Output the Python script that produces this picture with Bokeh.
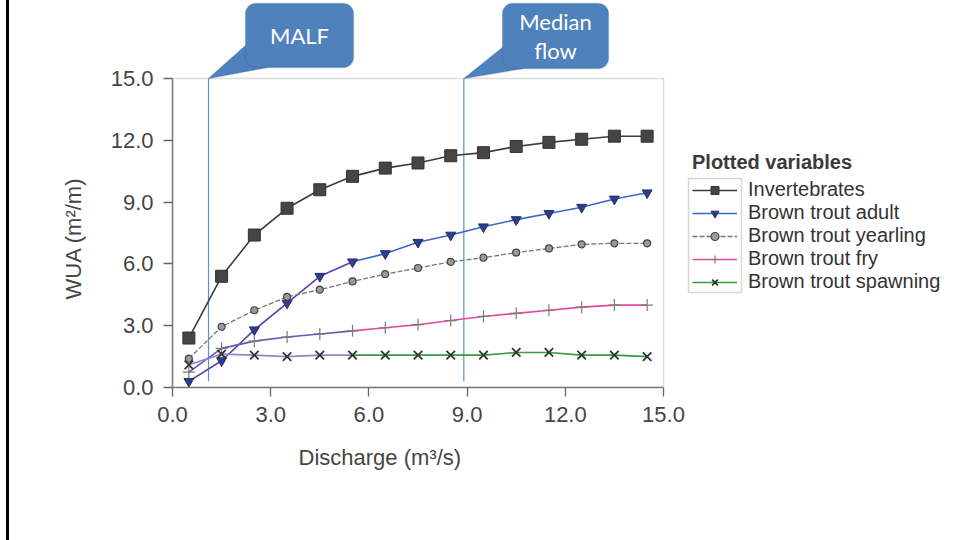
from bokeh.plotting import figure
from bokeh.models import (Range1d, Legend, LegendItem, Label, BoxAnnotation, Title, Spacer,
                          PolyAnnotation, FixedTicker, NumeralTickFormatter)
from bokeh.layouts import row
from bokeh.embed import file_html
from bokeh.resources import INLINE

# ---------------- data ----------------
discharge = [0.5, 1.5, 2.5, 3.5, 4.5, 5.5, 6.5, 7.5, 8.5, 9.5, 10.5, 11.5, 12.5, 13.5, 14.5]
invertebrates = [2.4, 5.4, 7.4, 8.7, 9.6, 10.25, 10.65, 10.9, 11.25, 11.4, 11.7, 11.9, 12.05, 12.2, 12.2]
trout_adult = [0.3, 1.3, 2.8, 4.1, 5.4, 6.1, 6.5, 7.05, 7.4, 7.8, 8.15, 8.45, 8.75, 9.15, 9.45]
trout_yearling = [1.4, 2.95, 3.75, 4.4, 4.75, 5.15, 5.5, 5.8, 6.1, 6.3, 6.55, 6.75, 6.95, 7.0, 7.0]
trout_fry = [0.75, 1.9, 2.25, 2.45, 2.6, 2.75, 2.9, 3.05, 3.25, 3.45, 3.6, 3.75, 3.9, 4.0, 4.0]
trout_spawning = [1.1, 1.62, 1.57, 1.5, 1.57, 1.57, 1.57, 1.57, 1.57, 1.57, 1.7, 1.7, 1.57, 1.57, 1.5]
series_names = ["Invertebrates", "Brown trout adult", "Brown trout yearling",
                "Brown trout fry", "Brown trout spawning"]
axis_ticks = [0, 3, 6, 9, 12, 15]
axis_max = 15.0
malf = 1.1
median_flow = 8.9
callout_texts = ["MALF", "Median\nflow"]
x_title = "Discharge (m³/s)"
y_title = "WUA (m²/m)"
legend_title = "Plotted variables"

# ---------------- layout helpers (page pixels -> data) ----------------
W, H = 960, 540
EDGE_W = 9                    # slide edge strip on the left
FL, FR, FB = 172, 663, 387    # plot box left / right / bottom (page px)
FT = 78                       # plot box top (page px)
PX_X = (FR - FL) / axis_max   # pixels per x unit
PX_Y = (FB - FT) / axis_max   # pixels per y unit


def dx(px):
    return (px - FL) / PX_X


def dy(py):
    return (FB - py) / PX_Y


FONT = "Liberation Sans"
TXT = "#454545"

# frame extends to the top and right of the page so that call-outs and legend are visible
p = figure(width=W - EDGE_W, height=H,
           x_range=Range1d(0, dx(W)), y_range=Range1d(0, dy(0)),
           min_border_left=FL - EDGE_W, min_border_right=0, min_border_top=0,
           min_border_bottom=H - FB, output_backend="svg", toolbar_location=None,
           background_fill_color="white", border_fill_color="white")
p.xgrid.visible = False
p.ygrid.visible = False
p.outline_line_color = None

for ax in (p.xaxis[0], p.yaxis[0]):
    ax.ticker = FixedTicker(ticks=axis_ticks)
    ax.formatter = NumeralTickFormatter(format="0.0")
    ax.bounds = (0, axis_max)
    ax.minor_tick_line_color = None
    ax.major_tick_in = 0
    ax.major_tick_out = 9
    ax.major_tick_line_color = "#666666"
    ax.major_tick_line_width = 1.3
    ax.axis_line_color = "#777777"
    ax.axis_line_width = 1.5
    ax.major_label_text_font = FONT
    ax.major_label_text_font_size = "22px"
    ax.major_label_text_color = TXT
p.xaxis[0].major_label_standoff = 10
p.yaxis[0].major_label_standoff = 10

# plot box (top and right edges)
p.add_layout(BoxAnnotation(left=0, right=axis_max, bottom=0, top=axis_max, fill_alpha=0,
                           line_color="#8a8a8a", line_width=1.5))

# axis titles
p.add_layout(Title(text=x_title, align="left", offset=298 - FL, text_font=FONT,
                   text_font_size="22px", text_font_style="normal", text_color=TXT,
                   standoff=36), "below")
p.add_layout(Title(text=y_title, align="left", offset=FB - 299, text_font=FONT,
                   text_font_size="22px", text_font_style="normal", text_color=TXT,
                   standoff=44), "left")

# vertical reference lines
p.segment(x0=[malf, median_flow], y0=[0.3, 0.3], x1=[malf, median_flow],
          y1=[axis_max, axis_max], line_color="#5b8fd0", line_width=1.2)

split = 6  # first section of trout curves drawn in purple (scan colour)

inv_line = p.line(discharge, invertebrates, line_color="#3c3c3c", line_width=1.6)
inv_mk = p.scatter(discharge, invertebrates, marker="square", size=12,
                   fill_color="#454545", line_color="#333333")

p.line(discharge[:split], trout_adult[:split], line_color="#5a3fb0", line_width=1.6)
ad_line = p.line(discharge[split - 1:], trout_adult[split - 1:], line_color="#3a68c6", line_width=1.6)
ad_mk = p.scatter(discharge, trout_adult, marker="inverted_triangle", size=10,
                  fill_color="#2c3f8c", line_color="#28306a")

yr_line = p.line(discharge, trout_yearling, line_color="#777777", line_width=1.3, line_dash="5 2")
yr_mk = p.scatter(discharge, trout_yearling, marker="circle", size=7,
                  fill_color="#9a9a9a", line_color="#444444", line_width=1.2)

p.line(discharge[:split], trout_fry[:split], line_color="#6b55bd", line_width=1.6)
fr_line = p.line(discharge[split - 1:], trout_fry[split - 1:], line_color="#e4489c", line_width=1.6)
fr_mk = p.scatter(discharge, trout_fry, marker="cross", size=12,
                  line_color="#7a7a7a", line_width=1.2)

p.line(discharge[:split], trout_spawning[:split], line_color="#9583cc", line_width=1.6)
sp_line = p.line(discharge[split - 1:], trout_spawning[split - 1:], line_color="#3a9a3e", line_width=1.6)
sp_mk = p.scatter(discharge, trout_spawning, marker="x", size=12,
                  line_color="#333333", line_width=1.8)

items = [
    LegendItem(label=series_names[0], renderers=[inv_line, inv_mk]),
    LegendItem(label=series_names[1], renderers=[ad_line, ad_mk]),
    LegendItem(label=series_names[2], renderers=[yr_line, yr_mk]),
    LegendItem(label=series_names[3], renderers=[fr_line, fr_mk]),
    LegendItem(label=series_names[4], renderers=[sp_line, sp_mk]),
]
legend = Legend(items=items, location=(692 - FL, FB - 293), margin=0, padding=0,
                spacing=-1, glyph_width=45, glyph_height=20, label_height=20,
                label_standoff=11, border_line_alpha=0, background_fill_alpha=0,
                label_text_font=FONT, label_text_font_size="20px", label_text_color="#333333",
                title=legend_title, title_text_font=FONT, title_text_font_size="20px",
                title_text_font_style="bold", title_text_color="#3a3a3a", title_standoff=4)
p.add_layout(legend, "center")

# box around legend glyphs
p.add_layout(BoxAnnotation(left=dx(688), right=dx(741), top=dy(178), bottom=dy(292),
                           fill_alpha=0, line_color="#777777", line_width=1.5))

# call-outs
BLUE = "#4f81bd"
EDGE = "#3a6597"
callouts = [
    (malf, (245, 3, 353, 67), (245, 45), (267, 67)),
    (median_flow, (502, 3, 608, 68), (502, 47), (523, 68)),
]
for (xv, box, a1, a2), txt in zip(callouts, callout_texts):
    l, t, r, b = box
    p.add_layout(PolyAnnotation(xs=[xv, dx(a1[0]), dx(a2[0])], ys=[axis_max, dy(a1[1]), dy(a2[1])],
                                fill_color=BLUE, fill_alpha=1, line_color=EDGE, line_width=1.3))
    p.add_layout(BoxAnnotation(left=dx(l), right=dx(r), top=dy(t), bottom=dy(b),
                               fill_color=BLUE, fill_alpha=1, line_color=EDGE, line_width=1.3,
                               border_radius=10))
    p.add_layout(Label(x=dx((l + r) / 2), y=dy((t + b) / 2), text=txt, text_align="center",
                       text_baseline="middle", text_color="white", text_font="Lato",
                       text_font_size="22px", text_line_height=1.1))

layout = row(Spacer(width=6, height=H),
             Spacer(width=EDGE_W - 6, height=H, styles={"background-color": "black"}),
             p)

open("out.html", "w").write(file_html(layout, INLINE))
